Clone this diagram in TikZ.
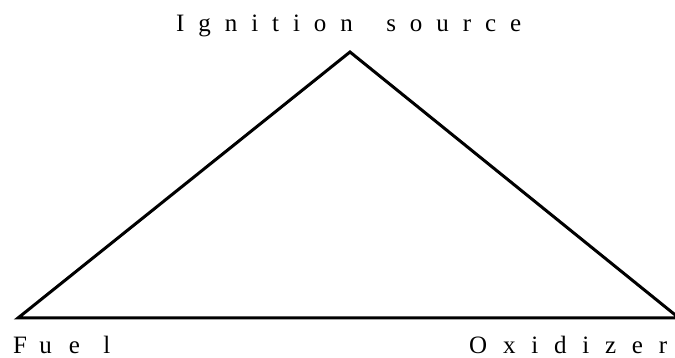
\documentclass[tikz,border=0pt]{standalone}
\usepackage{fontspec}
\setmainfont{Liberation Serif}
\newcommand{\gp}[1]{\hskip 0pt plus #1fill\relax}
\begin{document}
\begin{tikzpicture}[x=1pt,y=1pt,
  edge/.style={line width=3pt,line join=miter,line cap=butt},
  lbl/.style={inner sep=0pt,anchor=base west,font=\fontsize{25}{25}\selectfont}]
\useasboundingbox (0,0) rectangle (675,358);
\clip (0,0) rectangle (675,358);
\coordinate (L) at (18,40);
\coordinate (A) at (350,306);
\coordinate (R) at (679,40);
\draw[edge] (L) -- (A) -- (R) -- cycle;
\node[lbl] (ign) at (176,326) {\hbox to 345pt{I\gp{1}g\gp{1}n\gp{1}i\gp{1}t\gp{1}i\gp{1}o\gp{1}n\gp{2.4}s\gp{1}o\gp{1}u\gp{1}r\gp{1}c\gp{1}e}};
\node[lbl] (fuel) at (13,4) {\hbox to 97pt{F\gp{0.8}u\gp{1.1}e\gp{1.5}l}};
\node[lbl] (oxi) at (469,4) {\hbox to 198pt{O\gp{1}x\gp{1}i\gp{1}d\gp{1}i\gp{1}z\gp{1}e\gp{1}r}};
\end{tikzpicture}
\end{document}
